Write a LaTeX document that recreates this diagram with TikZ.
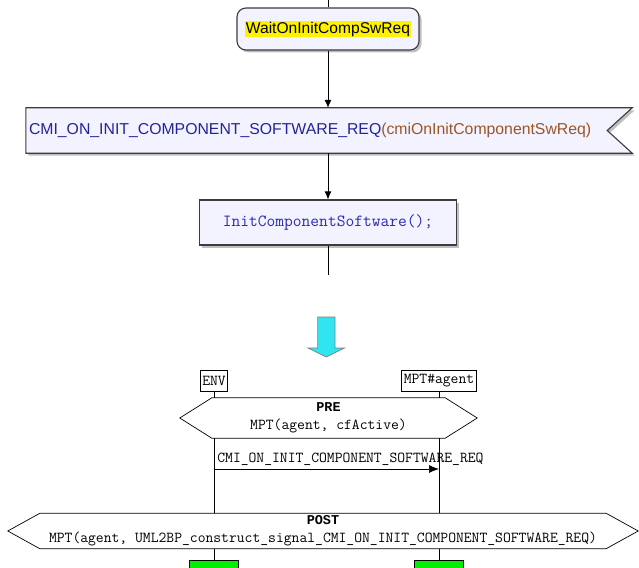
\documentclass[tikz,border=0pt]{standalone}
\usepackage{fontspec}
\setmainfont{Liberation Sans}
\newfontfamily\boldtt{Liberation Mono}
\usetikzlibrary{arrows.meta,shadows}
\definecolor{ink}{HTML}{3C3C3C}
\definecolor{lav}{HTML}{F3F2FF}
\definecolor{sigblue}{HTML}{23239C}
\definecolor{parbrown}{HTML}{9A5626}
\definecolor{codeblue}{HTML}{2A2AB4}
\definecolor{aqua}{HTML}{30E4F0}
\definecolor{lime}{HTML}{00F000}

\begin{document}
\begin{tikzpicture}[x=1pt,y=-1pt,>=Latex,
  sdlbox/.style={draw=ink,fill=lav,line width=1.1pt,
    drop shadow={shadow xshift=2.5pt,shadow yshift=-2.5pt,fill=black!25,opacity=1}},
  flow/.style={-{Latex[length=8pt,width=7pt]},line width=.9pt},
  lifebox/.style={draw,line width=.7pt,inner xsep=2pt,inner ysep=2pt,minimum height=21pt},
  cond/.style={line width=.7pt},
  life/.style={line width=.7pt},
  endbox/.style={draw,fill=lime,line width=.7pt,minimum width=49pt,minimum height=22pt}]
  \clip (0,0) rectangle (639,567);
  \fill[white] (0,0) rectangle (639,567);
  % sdl part
  \coordinate (top) at (328,0);
  \node[sdlbox,rounded corners=9pt,minimum width=182pt,minimum height=42pt,
    font=\fontsize{15.6pt}{18pt}\selectfont] (wait) at (328,29)
    {\setlength{\fboxsep}{0.6pt}\colorbox{yellow}{WaitOnInitCompSwReq}};
  \node[minimum width=606pt,minimum height=45pt,inner sep=0pt] (sig) at (329,130.5) {};
  \path[sdlbox] (sig.north west) -- (sig.north east) -- ([xshift=-25pt]sig.east)
    -- (sig.south east) -- (sig.south west) -- cycle;
  \node[anchor=west,inner sep=0pt,font=\fontsize{15.8pt}{18pt}\selectfont] (sigtxt)
    at ([xshift=3pt]sig.west)
    {\textcolor{sigblue}{CMI\_ON\_INIT\_COMPONENT\_SOFTWARE\_REQ}\textcolor{parbrown}{(cmiOnInitComponentSwReq)}};
  \node[sdlbox,minimum width=257pt,minimum height=45pt,text=codeblue,
    font=\ttfamily\fontsize{17pt}{18pt}\selectfont] (proc) at (328,222.5)
    {InitComponentSoftware();};
  \coordinate (tail) at (328,275);
  \draw[line width=.9pt] (top) -- (wait.north);
  \draw[flow] (wait.south) -- (wait.south |- sig.north);
  \draw[flow] (wait.south |- sig.south) -- (wait.south |- proc.north);
  \draw[line width=.9pt] (proc.south) -- (tail);
  \draw[gray,fill=aqua,line width=.7pt] (317.6,317) -- (335,317) -- (335,348) -- (344.5,348)
    -- (326.3,357) -- (308,348) -- (317.6,348) -- cycle;
  % msc part
  \begin{scope}[font=\ttfamily\fontsize{15.2pt}{18pt}\selectfont]
    \node[lifebox] (env) at (214,380.5) {ENV};
    \node[lifebox] (agent) at (439,380.5) {MPT\#agent};
    \node[minimum width=233pt,minimum height=40pt,inner sep=0pt,align=center] (pre) at (328.5,418)
      {{\boldtt\bfseries\fontsize{13.5pt}{18pt}\selectfont PRE}\\MPT(agent, cfActive)};
    \draw[cond] (pre.north west) -- (pre.north east) -- ([xshift=32pt]pre.east)
      -- (pre.south east) -- (pre.south west) -- ([xshift=-32pt]pre.west) -- cycle;
    \node[minimum width=566pt,minimum height=35pt,inner sep=0pt,align=center] (post) at (323,531)
      {{\boldtt\bfseries\fontsize{13.5pt}{18pt}\selectfont POST}\\MPT(agent, UML2BP\_construct\_signal\_CMI\_ON\_INIT\_COMPONENT\_SOFTWARE\_REQ)};
    \draw[cond] (post.north west) -- (post.north east) -- ([xshift=32pt]post.east)
      -- (post.south east) -- (post.south west) -- ([xshift=-32pt]post.west) -- cycle;
    \node[endbox] (envend) at (214,571) {};
    \node[endbox] (agentend) at (439,571) {};
    \coordinate (msgy) at (0,469);
    \draw[life] (env) -- (env |- pre.north);
    \draw[life] (agent) -- (agent |- pre.north);
    \draw[life] (env |- pre.south) -- (env |- post.north);
    \draw[life] (agent |- pre.south) -- (agent |- post.north);
    \draw[life] (env |- post.south) -- (envend);
    \draw[life] (agent |- post.south) -- (agentend);
    \draw[-{Latex[length=10pt,width=8pt]},line width=.7pt] (env |- msgy)
      node[above right,inner sep=3pt] (msglbl) {CMI\_ON\_INIT\_COMPONENT\_SOFTWARE\_REQ}
      -- (agent |- msgy);
  \end{scope}
\end{tikzpicture}
\end{document}
